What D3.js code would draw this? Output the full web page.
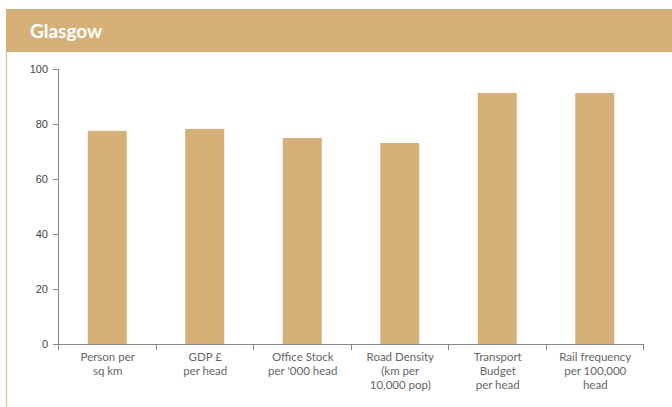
<!DOCTYPE html>
<html><head><meta charset="utf-8">
<script src="https://cdn.jsdelivr.net/npm/d3@7"></script>
<style>body{margin:0;background:#fff}svg{display:block}</style>
</head><body>
<script>
const categories = [
  ["Person per","sq km"],
  ["GDP £","per head"],
  ["Office Stock","per '000 head"],
  ["Road Density","(km per","10,000 pop)"],
  ["Transport","Budget","per head"],
  ["Rail frequency","per 100,000","head"]
];
const values = [77.5, 78.2, 74.9, 73.1, 91.3, 91.3];
const yTicks = [0, 20, 40, 60, 80, 100];
const title = "Glasgow";

const W = 672, H = 407;
const color = "#D5B078";
const svg = d3.select("body").append("svg").attr("width", W).attr("height", H);

// header band
svg.append("rect").attr("x", 6).attr("y", 9).attr("width", W - 6).attr("height", 43).attr("fill", color);
svg.append("text").attr("x", 30).attr("y", 38).text(title)
  .attr("fill", "#fff").attr("font-family", "Lato, 'Open Sans', sans-serif")
  .attr("font-weight", "bold").attr("font-size", 19);
// panel left border
svg.append("line").attr("x1", 6.5).attr("x2", 6.5).attr("y1", 52).attr("y2", H)
  .attr("stroke", "#E3C9A0").attr("stroke-width", 1.5);

const x = d3.scaleBand().domain(d3.range(categories.length)).range([58, 643]).padding(0);
const y = d3.scaleLinear().domain([0, 100]).range([344, 69]);

// bars
const bw = x.bandwidth() * 0.4;
svg.selectAll("rect.bar").data(values).join("rect").attr("class", "bar")
  .attr("x", (d, i) => x(i) + x.bandwidth() / 2 - bw / 2 + 0.5)
  .attr("width", bw)
  .attr("y", d => y(d))
  .attr("height", d => y(0) - y(d))
  .attr("fill", color);

// y axis
const yAxis = svg.append("g").attr("transform", "translate(58,0)")
  .call(d3.axisLeft(y).tickValues(yTicks).tickSize(5).tickPadding(5));
yAxis.selectAll("text").attr("font-family", "'Liberation Sans', Arial, sans-serif")
  .attr("font-size", 11).attr("fill", "#444");
yAxis.selectAll("line,path").attr("stroke", "#888");

// x axis
const xAxisG = svg.append("g").attr("transform", "translate(0,344)");
xAxisG.append("line").attr("x1", 53).attr("x2", 643).attr("y1", 0.5).attr("y2", 0.5).attr("stroke", "#888");
const bounds = d3.range(categories.length + 1).map(i => i < categories.length ? x(i) : x(categories.length - 1) + x.bandwidth());
xAxisG.selectAll("line.tk").data(bounds).join("line").attr("class", "tk")
  .attr("x1", d => Math.round(d) + 0.5).attr("x2", d => Math.round(d) + 0.5)
  .attr("y1", 0).attr("y2", 6).attr("stroke", "#888");

const lbl = svg.append("g");
categories.forEach((lines, i) => {
  const t = lbl.append("text").attr("text-anchor", "middle")
    .attr("font-family", "Lato, 'Open Sans', sans-serif").attr("font-size", 11.5).attr("fill", "#666");
  lines.forEach((s, j) => {
    t.append("tspan").attr("x", x(i) + x.bandwidth() / 2 + 1).attr("y", 361 + j * 14).text(s);
  });
});
</script>
</body></html>
